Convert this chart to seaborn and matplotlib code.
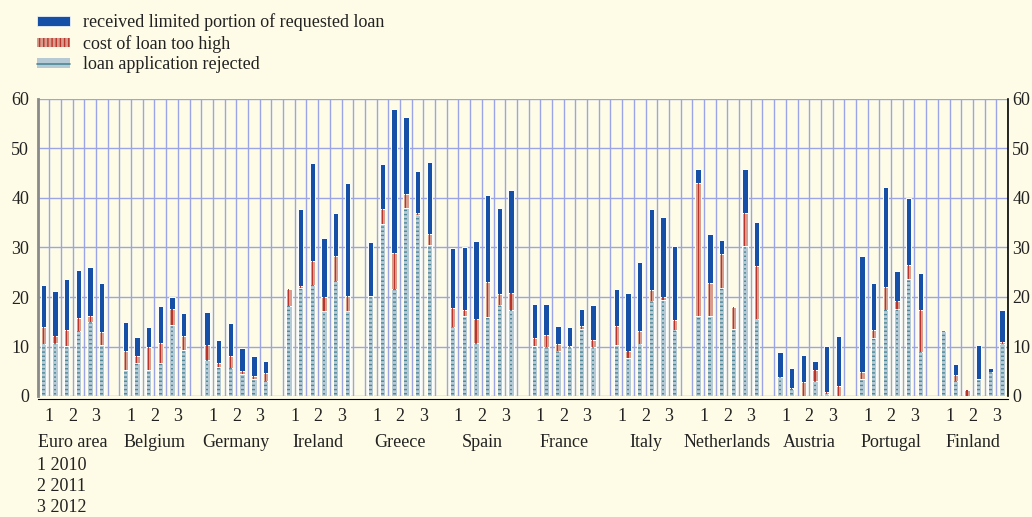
import numpy as np
import pandas as pd
import matplotlib
matplotlib.use("Agg")
import matplotlib.pyplot as plt
from matplotlib.patches import Patch
from matplotlib.lines import Line2D
import seaborn as sns

# data: 12 countries x 6 survey rounds (two per year), percentages
countries = ["Euro area", "Belgium", "Germany", "Ireland", "Greece", "Spain",
             "France", "Italy", "Netherlands", "Austria", "Portugal", "Finland"]
year_ticks = ["1", "2", "3"]
year_notes = ["1 2010", "2 2011", "3 2012"]
series_names = ["received limited portion of requested loan",
                "cost of loan too high",
                "loan application rejected"]

rejected = [
    [10.5, 10.7, 10.1, 13.2, 14.9, 10.4],
    [5.2, 6.6, 5.2, 6.6, 14.3, 9.3],
    [7.2, 5.9, 5.7, 4.5, 3.5, 3.0],
    [18.1, 21.9, 22.5, 17.1, 23.3, 17.1],
    [20.3, 34.8, 21.7, 38.0, 36.5, 30.6],
    [13.9, 16.1, 10.7, 16.0, 18.4, 17.3],
    [10.1, 10.0, 9.1, 9.8, 13.5, 10.0],
    [10.3, 7.6, 10.5, 19.1, 19.3, 13.3],
    [16.2, 16.2, 21.9, 13.5, 30.4, 15.6],
    [3.9, 1.4, 0.0, 3.1, 0.4, 0.0],
    [3.5, 11.8, 17.4, 17.6, 23.7, 8.8],
    [13.1, 3.0, 0.0, 3.4, 4.8, 10.6],
]
cost_high = [
    [3.4, 1.5, 3.2, 2.5, 1.3, 2.5],
    [3.9, 1.5, 4.6, 4.2, 3.3, 2.9],
    [3.2, 0.7, 2.4, 0.5, 0.6, 1.7],
    [3.6, 0.3, 4.7, 2.9, 4.9, 3.1],
    [0.0, 2.9, 7.2, 2.9, 0.5, 2.1],
    [3.8, 1.2, 4.9, 7.1, 2.2, 3.5],
    [1.6, 2.3, 1.4, 0.3, 0.6, 1.3],
    [3.9, 1.4, 2.7, 2.3, 0.7, 2.1],
    [26.8, 6.6, 6.7, 4.4, 6.5, 10.7],
    [0.0, 0.2, 2.8, 2.1, 0.5, 2.1],
    [1.4, 1.5, 4.7, 1.5, 2.8, 8.5],
    [0.0, 1.3, 1.2, 0.0, 0.0, 0.4],
]
limited = [
    [8.6, 9.0, 10.4, 9.8, 9.8, 10.0],
    [5.9, 3.9, 4.2, 7.3, 2.5, 4.6],
    [6.5, 4.8, 6.7, 4.7, 4.0, 2.3],
    [0.0, 15.6, 19.9, 11.9, 8.7, 22.9],
    [10.9, 9.1, 29.1, 15.4, 8.5, 14.5],
    [12.1, 12.9, 15.7, 17.6, 17.4, 20.9],
    [6.9, 6.2, 3.7, 3.8, 3.5, 7.1],
    [7.4, 11.9, 13.9, 16.4, 16.1, 15.0],
    [2.8, 9.9, 2.9, 0.0, 8.9, 8.9],
    [4.9, 4.0, 5.5, 1.8, 9.3, 10.0],
    [23.4, 9.6, 20.2, 6.1, 13.6, 7.5],
    [0.0, 2.1, 0.0, 7.0, 0.9, 6.3],
]

BG = "#fefce6"
BLUE = "#1650a6"
SALMON = "#d99b8b"
RED = "#b8352b"
REJ = "#b5cad4"
TEAL = "#4d8797"
GRID = "#9ba5e6"

sns.set_theme(style="white")
plt.rcParams["font.family"] = ["Liberation Serif", "DejaVu Serif"]
plt.rcParams["hatch.linewidth"] = 1.0
FS = 13

rows = []
for i, c in enumerate(countries):
    for j in range(6):
        rows.append({"country": c, "pos": i * 7 + j,
                     "rej": rejected[i][j], "cost": cost_high[i][j],
                     "lim": limited[i][j]})
df = pd.DataFrame(rows)
df["cost_top"] = df["rej"] + df["cost"]
df["total"] = df["cost_top"] + df["lim"]

fig = plt.figure(figsize=(10.32, 5.17), dpi=100, facecolor=BG)
ax = fig.add_axes([37.5 / 1032, 1 - 396 / 517, 970.5 / 1032, 297 / 517])
ax.set_facecolor(BG)

W = 0.46
common = dict(data=df, x="pos", native_scale=True, errorbar=None, saturation=1, ax=ax)
# stacked by overdrawing: total, then cost top, then rejected
sns.barplot(y="total", width=W, color=BLUE, edgecolor="white", linewidth=0.7, **common)
sns.barplot(y="cost_top", width=W, color=SALMON, edgecolor="white", linewidth=0.7, **common)
sns.barplot(y="cost_top", width=0.1, color=RED, linewidth=0, **common)
sns.barplot(y="rej", width=W, color=REJ, edgecolor="white", linewidth=0.7, **common)
sns.barplot(y="rej", width=0.24, color=TEAL, fill=False, linewidth=0, hatch="----", **common)

ax.set_xlim(-0.5, 82.5)
ax.set_ylim(0, 60)
ax.set_xlabel("")
ax.set_ylabel("")
ax.set_axisbelow(True)

bounds = np.arange(-0.5, 83, 1)
ax.set_xticks(bounds)
ax.set_xticklabels([])
ax.set_xticks(df["pos"] + 0.3, minor=True)
ax.tick_params(axis="x", which="major", length=10, width=0.9, color="black", direction="out")
ax.tick_params(axis="x", which="minor", length=5, width=1.6, color="black", direction="out")
ax.set_yticks(range(0, 61, 10))
ax.tick_params(axis="y", length=0, labelleft=True, labelright=False,
               labelsize=FS, pad=6, labelcolor="#222222")
ax.grid(True, which="major", color=GRID, linewidth=1.0)

# right-hand scale, a bit closer to the frame so it fits the image
ax2 = ax.twinx()
ax2.set_ylim(0, 60)
ax2.set_yticks(range(0, 61, 10))
ax2.tick_params(axis="y", length=0, labelsize=FS, pad=3, labelcolor="#222222")
ax2.grid(False)
for s in ["top", "left", "bottom"]:
    ax2.spines[s].set_visible(False)
ax2.spines["right"].set_color("black")
ax2.spines["right"].set_linewidth(1.2)

ax.spines["top"].set_visible(False)
ax.spines["left"].set_color("#8a8a8a")
ax.spines["left"].set_linewidth(2)
ax.spines["right"].set_visible(False)
ax.spines["bottom"].set_color("black")
ax.spines["bottom"].set_linewidth(0.8)
ax.spines["bottom"].set_position(("outward", 2))

for i, c in enumerate(countries):
    for k, yl in enumerate(year_ticks):
        ax.annotate(yl, (i * 7 + 2 * k + 0.5, 0), xycoords=("data", "axes fraction"),
                    xytext=(0, -15), textcoords="offset points",
                    ha="center", va="center", fontsize=FS, color="#222222")
    ax.annotate(c, (i * 7 + 2.5, 0), xycoords=("data", "axes fraction"),
                xytext=(0, -33.5), textcoords="offset points",
                ha="center", va="center", fontsize=FS, color="#222222")

for k, note in enumerate(year_notes):
    fig.text(37 / 1032, 1 - (466 + 20.5 * k) / 517, note, ha="left", va="center",
             fontsize=FS, color="#222222")

handles = [
    Patch(facecolor=BLUE, edgecolor="white", linewidth=0.5),
    Patch(facecolor=SALMON, edgecolor=RED, linewidth=0, hatch="||||"),
    (Patch(facecolor=REJ, linewidth=0), Line2D([], [], color=TEAL, linewidth=1.2)),
]
fig.legend(handles, series_names, loc="upper left", bbox_to_anchor=(37 / 1032, 0.974),
           frameon=False, fontsize=FS, handlelength=1.8, handleheight=0.45,
           handletextpad=0.75, labelspacing=0.2, borderpad=0, borderaxespad=0,
           labelcolor="#222222")

fig.savefig("out.png", dpi=100, facecolor=BG)
